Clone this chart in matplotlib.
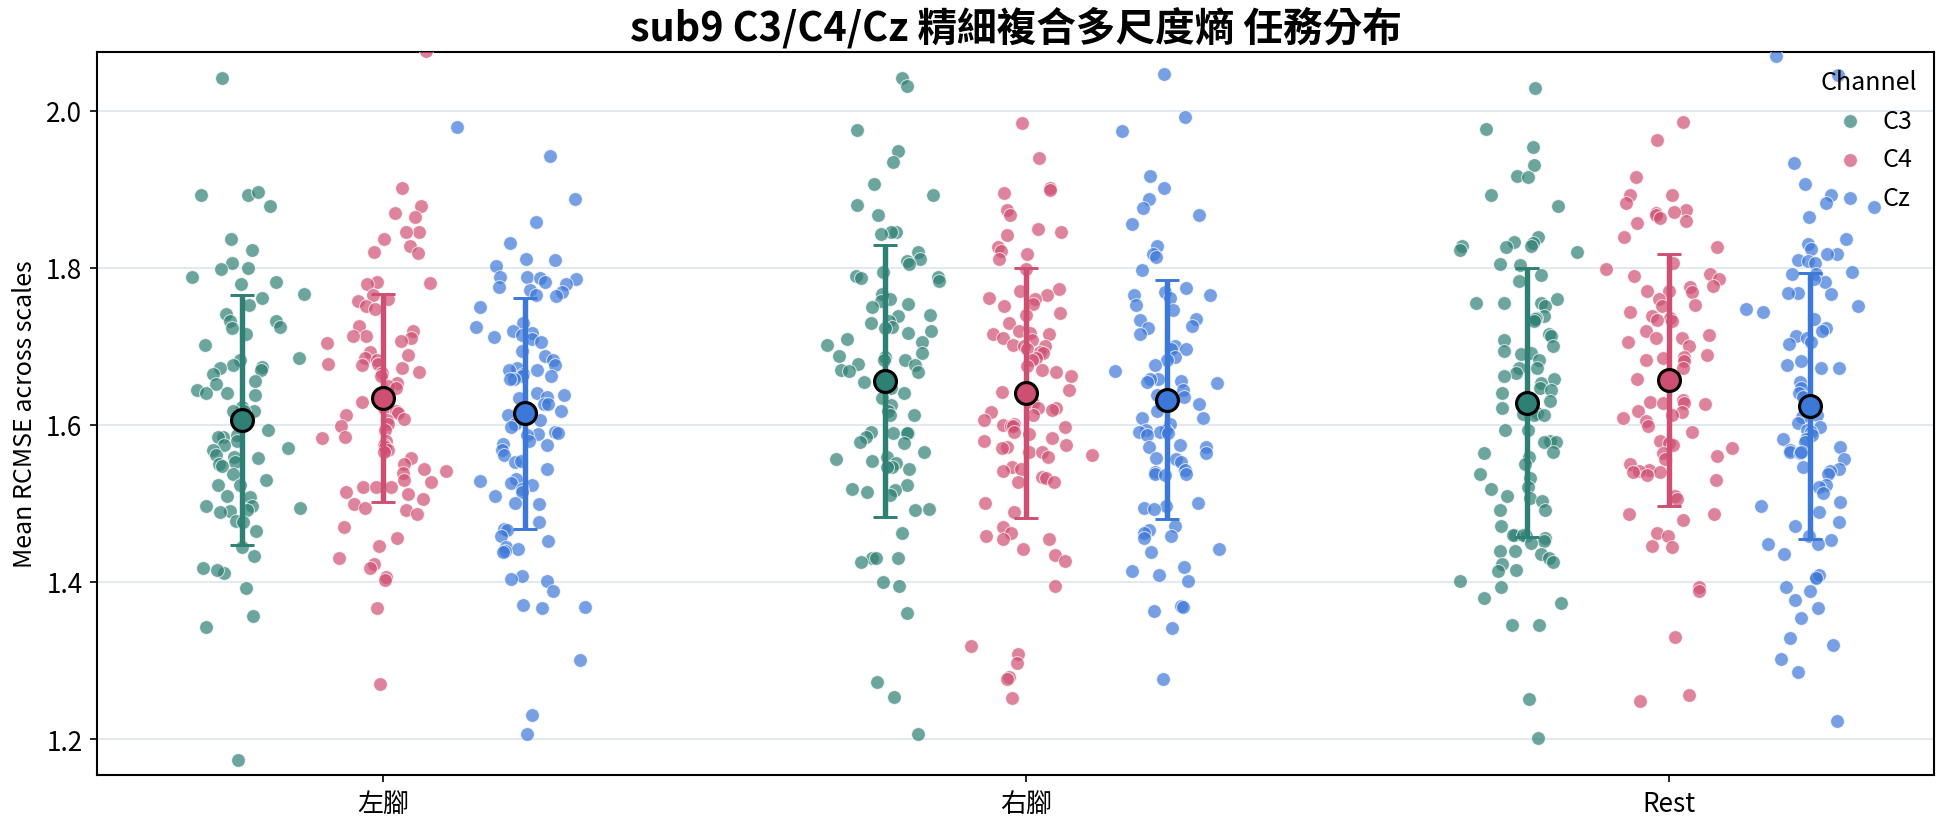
import matplotlib
matplotlib.use("Agg")
import matplotlib.pyplot as plt
import numpy as np

plt.rcParams["font.family"] = ["Noto Sans CJK TC", "DejaVu Sans"]

tasks = ["左腳", "右腳", "Rest"]
channels = ["C3", "C4", "Cz"]
colors = {"C3": "#2e7f74", "C4": "#cf4f72", "Cz": "#3c78d8"}

# values (Mean RCMSE across scales)
c3_left = [2.042, 1.893, 1.893, 1.896, 1.879, 1.836, 1.823, 1.799, 1.806, 1.798, 1.788, 1.782,
           1.779, 1.766, 1.761, 1.753, 1.741, 1.732, 1.732, 1.725, 1.723, 1.715, 1.702, 1.685,
           1.683, 1.676, 1.674, 1.673, 1.670, 1.665, 1.656, 1.652, 1.644, 1.641, 1.640, 1.638,
           1.623, 1.618, 1.618, 1.618, 1.599, 1.594, 1.587, 1.585, 1.585, 1.580, 1.574, 1.571,
           1.568, 1.562, 1.559, 1.558, 1.553, 1.550, 1.548, 1.537, 1.530, 1.524, 1.523, 1.509,
           1.508, 1.497, 1.497, 1.494, 1.492, 1.490, 1.489, 1.478, 1.477, 1.465, 1.445, 1.433,
           1.418, 1.412, 1.415, 1.392, 1.357, 1.343, 1.173]
c4_left = [2.076, 1.902, 1.879, 1.870, 1.864, 1.845, 1.846, 1.836, 1.828, 1.820, 1.819, 1.782,
           1.779, 1.780, 1.765, 1.760, 1.757, 1.751, 1.748, 1.726, 1.720, 1.713, 1.713, 1.710,
           1.707, 1.704, 1.693, 1.689, 1.685, 1.683, 1.677, 1.677, 1.676, 1.672, 1.667, 1.666,
           1.662, 1.653, 1.650, 1.647, 1.629, 1.622, 1.618, 1.615, 1.612, 1.607, 1.606, 1.601,
           1.599, 1.593, 1.585, 1.583, 1.579, 1.574, 1.572, 1.568, 1.565, 1.558, 1.550, 1.544,
           1.541, 1.539, 1.530, 1.527, 1.521, 1.521, 1.521, 1.515, 1.512, 1.506, 1.499, 1.494,
           1.492, 1.487, 1.470, 1.456, 1.446, 1.430, 1.423, 1.418, 1.406, 1.402, 1.367, 1.270]
cz_left = [1.979, 1.942, 1.887, 1.858, 1.831, 1.811, 1.810, 1.802, 1.788, 1.787, 1.788, 1.785,
           1.782, 1.779, 1.776, 1.771, 1.769, 1.765, 1.764, 1.750, 1.729, 1.725, 1.720, 1.717,
           1.714, 1.712, 1.709, 1.706, 1.694, 1.688, 1.683, 1.676, 1.672, 1.670, 1.670, 1.665,
           1.662, 1.662, 1.659, 1.658, 1.641, 1.638, 1.635, 1.634, 1.626, 1.626, 1.618, 1.613,
           1.606, 1.601, 1.597, 1.591, 1.588, 1.587, 1.590, 1.579, 1.576, 1.574, 1.568, 1.562,
           1.553, 1.554, 1.544, 1.531, 1.528, 1.526, 1.523, 1.518, 1.515, 1.509, 1.501, 1.499,
           1.477, 1.468, 1.466, 1.458, 1.452, 1.445, 1.442, 1.439, 1.438, 1.408, 1.401, 1.404,
           1.389, 1.371, 1.367, 1.368, 1.301, 1.231, 1.207]
c3_right = [2.042, 2.031, 1.975, 1.948, 1.934, 1.907, 1.893, 1.880, 1.867, 1.846, 1.845, 1.843,
            1.820, 1.811, 1.808, 1.805, 1.795, 1.789, 1.788, 1.787, 1.783, 1.767, 1.760, 1.758,
            1.754, 1.750, 1.740, 1.738, 1.732, 1.729, 1.724, 1.723, 1.720, 1.717, 1.709, 1.706,
            1.701, 1.691, 1.688, 1.687, 1.683, 1.682, 1.677, 1.676, 1.670, 1.669, 1.667, 1.654,
            1.647, 1.641, 1.634, 1.625, 1.618, 1.612, 1.612, 1.590, 1.590, 1.590, 1.591, 1.585,
            1.578, 1.577, 1.565, 1.559, 1.556, 1.554, 1.552, 1.547, 1.547, 1.544, 1.524, 1.518,
            1.517, 1.515, 1.511, 1.492, 1.493, 1.462, 1.430, 1.430, 1.431, 1.425, 1.400, 1.395,
            1.361, 1.273, 1.254, 1.207]
c4_right = [1.984, 1.939, 1.902, 1.899, 1.895, 1.874, 1.867, 1.845, 1.849, 1.842, 1.826, 1.821,
            1.817, 1.811, 1.798, 1.773, 1.770, 1.765, 1.762, 1.760, 1.754, 1.751, 1.742, 1.740,
            1.730, 1.719, 1.716, 1.716, 1.717, 1.711, 1.708, 1.701, 1.700, 1.700, 1.697, 1.693,
            1.691, 1.685, 1.682, 1.675, 1.670, 1.667, 1.662, 1.645, 1.642, 1.628, 1.622, 1.621,
            1.619, 1.616, 1.613, 1.606, 1.601, 1.600, 1.599, 1.597, 1.599, 1.591, 1.588, 1.583,
            1.579, 1.574, 1.572, 1.571, 1.565, 1.565, 1.562, 1.559, 1.547, 1.544, 1.541, 1.534,
            1.533, 1.527, 1.527, 1.500, 1.489, 1.470, 1.462, 1.459, 1.455, 1.455, 1.442, 1.435,
            1.427, 1.395, 1.319, 1.309, 1.297, 1.279, 1.276, 1.252]
cz_right = [2.046, 1.992, 1.974, 1.917, 1.901, 1.888, 1.876, 1.867, 1.855, 1.828, 1.817, 1.813,
            1.797, 1.774, 1.769, 1.765, 1.765, 1.761, 1.753, 1.746, 1.735, 1.734, 1.726, 1.723,
            1.716, 1.700, 1.697, 1.697, 1.687, 1.683, 1.676, 1.669, 1.659, 1.658, 1.656, 1.654,
            1.653, 1.644, 1.638, 1.635, 1.626, 1.626, 1.618, 1.609, 1.609, 1.601, 1.594, 1.593,
            1.591, 1.590, 1.591, 1.587, 1.574, 1.572, 1.572, 1.564, 1.558, 1.556, 1.553, 1.543,
            1.540, 1.538, 1.537, 1.536, 1.500, 1.497, 1.494, 1.493, 1.471, 1.466, 1.462, 1.459,
            1.456, 1.442, 1.438, 1.419, 1.414, 1.409, 1.401, 1.370, 1.368, 1.363, 1.342, 1.277]
c3_rest = [2.029, 1.977, 1.953, 1.931, 1.917, 1.916, 1.892, 1.879, 1.839, 1.833, 1.832, 1.828,
           1.826, 1.827, 1.823, 1.820, 1.805, 1.804, 1.791, 1.783, 1.760, 1.755, 1.755, 1.755,
           1.751, 1.738, 1.736, 1.735, 1.732, 1.716, 1.713, 1.708, 1.700, 1.694, 1.692, 1.690,
           1.682, 1.673, 1.672, 1.666, 1.662, 1.658, 1.653, 1.647, 1.645, 1.641, 1.631, 1.622,
           1.615, 1.614, 1.612, 1.613, 1.594, 1.594, 1.579, 1.578, 1.578, 1.566, 1.564, 1.559,
           1.550, 1.538, 1.533, 1.521, 1.519, 1.509, 1.507, 1.503, 1.492, 1.492, 1.471, 1.460,
           1.459, 1.460, 1.460, 1.456, 1.452, 1.450, 1.440, 1.440, 1.436, 1.430, 1.425, 1.423,
           1.415, 1.414, 1.401, 1.394, 1.380, 1.373, 1.345, 1.345, 1.251, 1.201]
c4_rest = [1.986, 1.962, 1.916, 1.893, 1.892, 1.882, 1.873, 1.870, 1.867, 1.871, 1.863, 1.859,
           1.857, 1.839, 1.826, 1.806, 1.798, 1.792, 1.789, 1.785, 1.777, 1.775, 1.770, 1.770,
           1.769, 1.760, 1.752, 1.751, 1.744, 1.738, 1.736, 1.734, 1.732, 1.720, 1.714, 1.711,
           1.711, 1.706, 1.700, 1.689, 1.687, 1.685, 1.682, 1.681, 1.672, 1.659, 1.652, 1.632,
           1.629, 1.628, 1.628, 1.626, 1.618, 1.616, 1.612, 1.609, 1.605, 1.599, 1.591, 1.579,
           1.577, 1.574, 1.571, 1.564, 1.560, 1.556, 1.550, 1.543, 1.541, 1.540, 1.540, 1.536,
           1.530, 1.509, 1.506, 1.486, 1.486, 1.479, 1.462, 1.458, 1.446, 1.445, 1.394, 1.388,
           1.330, 1.256, 1.248]
cz_rest = [2.069, 2.045, 1.933, 1.906, 1.893, 1.882, 1.877, 1.864, 1.836, 1.830, 1.824, 1.817,
           1.817, 1.810, 1.808, 1.806, 1.794, 1.792, 1.792, 1.782, 1.786, 1.768, 1.767, 1.768,
           1.751, 1.747, 1.744, 1.735, 1.723, 1.720, 1.713, 1.711, 1.706, 1.703, 1.681, 1.676,
           1.673, 1.672, 1.654, 1.647, 1.641, 1.636, 1.612, 1.610, 1.603, 1.597, 1.594, 1.591,
           1.587, 1.582, 1.582, 1.578, 1.572, 1.568, 1.565, 1.564, 1.566, 1.556, 1.547, 1.544,
           1.541, 1.538, 1.524, 1.521, 1.513, 1.502, 1.497, 1.489, 1.477, 1.471, 1.459, 1.453,
           1.449, 1.449, 1.436, 1.406, 1.409, 1.405, 1.394, 1.389, 1.377, 1.367, 1.354, 1.329,
           1.320, 1.302, 1.286, 1.223]

# group means and standard deviations shown by the error bars
means = {"C3": [1.606, 1.656, 1.628], "C4": [1.634, 1.641, 1.657], "Cz": [1.615, 1.632, 1.624]}
sds = {"C3": [0.159, 0.173, 0.171], "C4": [0.132, 0.159, 0.160], "Cz": [0.147, 0.152, 0.169]}

values = {
    "C3": [c3_left, c3_right, c3_rest],
    "C4": [c4_left, c4_right, c4_rest],
    "Cz": [cz_left, cz_right, cz_rest],
}

fig = plt.figure(figsize=(12.96, 5.513), dpi=150)
ax = fig.add_axes([0.0499, 0.0617, 0.9451, 0.8743])

rng = np.random.default_rng(9)
offsets = {"C3": -0.22, "C4": 0.0, "Cz": 0.22}
for ch in channels:
    for i, vals in enumerate(values[ch]):
        vals = np.asarray(vals)
        jit = np.clip(rng.normal(0, 0.038, len(vals)), -0.105, 0.105)
        ax.scatter(i + offsets[ch] + jit, vals, s=44, color=colors[ch], alpha=0.7,
                   edgecolors="white", linewidths=0.5, zorder=3,
                   label=ch if i == 0 else None)
    xs = np.arange(len(tasks)) + offsets[ch]
    ax.errorbar(xs, means[ch], yerr=sds[ch], fmt="none", ecolor=colors[ch],
                elinewidth=2.6, capsize=5.8, capthick=1.4, zorder=4)
    ax.plot(xs, means[ch], "o", ms=10.5, mfc=colors[ch], mec="black", mew=1.5,
            ls="none", zorder=5)

ax.set_xlim(-0.4455, 2.413)
ax.set_ylim(1.1545, 2.0745)
ax.set_xticks(range(len(tasks)))
ax.set_xticklabels(tasks, fontsize=12.5)
ax.set_yticks([1.2, 1.4, 1.6, 1.8, 2.0])
ax.tick_params(axis="y", labelsize=12.5)
ax.yaxis.grid(True, color="#dde5ee", lw=0.8, zorder=0)
ax.set_axisbelow(True)
for sp in ax.spines.values():
    sp.set_linewidth(1.0)
    sp.set_color("black")
ax.set_ylabel("Mean RCMSE across scales", fontsize=12)
ax.set_title("sub9 C3/C4/Cz 精細複合多尺度熵 任務分布", fontsize=19, fontweight="bold", pad=6)

leg = ax.legend(title="Channel", loc="upper right", frameon=False, fontsize=12,
                title_fontsize=12, markerfirst=True, handletextpad=0.3,
                borderaxespad=0.3, bbox_to_anchor=(1.0, 1.0), labelspacing=0.5)

fig.savefig("out.png", dpi=150)
